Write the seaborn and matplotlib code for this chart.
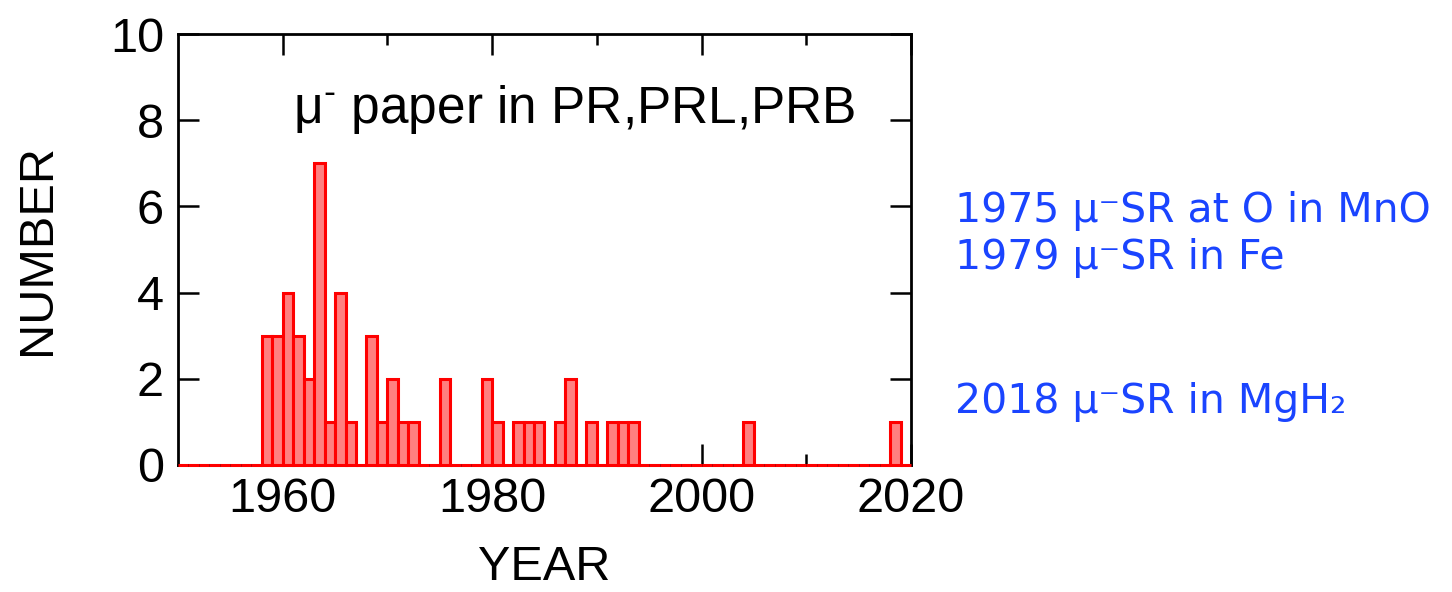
import numpy as np
import pandas as pd
import matplotlib
matplotlib.use("Agg")
import matplotlib.pyplot as plt
import seaborn as sns

# ---- data ----
years = [1958, 1959, 1960, 1961, 1962, 1963, 1964, 1965, 1966, 1968, 1969, 1970,
         1971, 1972, 1975, 1979, 1980, 1982, 1983, 1984, 1986, 1987, 1989, 1991,
         1992, 1993, 2004, 2018]
counts = [3, 3, 4, 3, 2, 7, 1, 4, 1, 3, 1, 2,
          1, 1, 2, 2, 1, 1, 1, 1, 1, 2, 1, 1,
          1, 1, 1, 1]
x_ticks = [1960, 1980, 2000, 2020]
y_ticks = [0, 2, 4, 6, 8, 10]
title_text = r"μ$^{\text{-}}$ paper in PR,PRL,PRB"
notes = ["1975 μ⁻SR at O in MnO", "1979 μ⁻SR in Fe", "2018 μ⁻SR in MgH₂"]

df = pd.DataFrame({"year": [y + 0.5 for y in years], "count": counts})

sns.set_theme(style="ticks")
plt.rcParams["font.family"] = ["Liberation Sans", "DejaVu Sans"]
plt.rcParams["mathtext.fontset"] = "custom"
plt.rcParams["mathtext.rm"] = "Liberation Sans"
plt.rcParams["mathtext.it"] = "Liberation Sans:italic"
plt.rcParams["mathtext.bf"] = "Liberation Sans:bold"

fig = plt.figure(figsize=(14.52, 5.92), dpi=100)
ax = fig.add_axes([178 / 1452, 127 / 592, 733 / 1452, 431 / 592])

sns.histplot(data=df, x="year", weights="count", binwidth=1, binrange=(1950, 2020),
             facecolor="#ff8080", edgecolor="#ff0000", linewidth=2.2, alpha=1,
             ax=ax)
for p in ax.patches:
    p.set_zorder(3)
    p.set_clip_on(False)

ax.set_xlim(1950, 2020)
ax.set_ylim(0, 10)
ax.set_xticks(x_ticks)
ax.set_xticks([1970, 1990, 2010], minor=True)
ax.set_yticks(y_ticks)
ax.set_xticklabels([str(t) for t in x_ticks])
ax.set_yticklabels([str(t) for t in y_ticks])

ax.tick_params(which="both", direction="in", top=True, right=True,
               width=1.8, color="black", labelsize=35, labelcolor="black")
ax.tick_params(which="major", length=15)
ax.tick_params(which="minor", length=8)
ax.tick_params(axis="x", which="major", pad=9)
ax.tick_params(axis="y", which="major", pad=10)

for s in ax.spines.values():
    s.set_linewidth(2)
    s.set_color("black")
    s.set_visible(True)

ax.set_xlabel("YEAR", fontsize=35, labelpad=16, color="black")
ax.set_ylabel("NUMBER", fontsize=35, labelpad=36, color="black")

ax.text((293 - 178) / 733, (465 - 123) / 431, title_text, transform=ax.transAxes,
        fontsize=37, ha="left", va="baseline", color="black",
        family=["Liberation Sans", "DejaVu Sans"])

note_color = "#1a44ff"
baselines = [222, 269, 413]
for txt, b in zip(notes, baselines):
    fig.text(955 / 1452, 1 - b / 592, txt, fontsize=29.5, color=note_color,
             ha="left", va="baseline", family=["DejaVu Sans"])

fig.savefig("out.png", dpi=100, facecolor="white")
